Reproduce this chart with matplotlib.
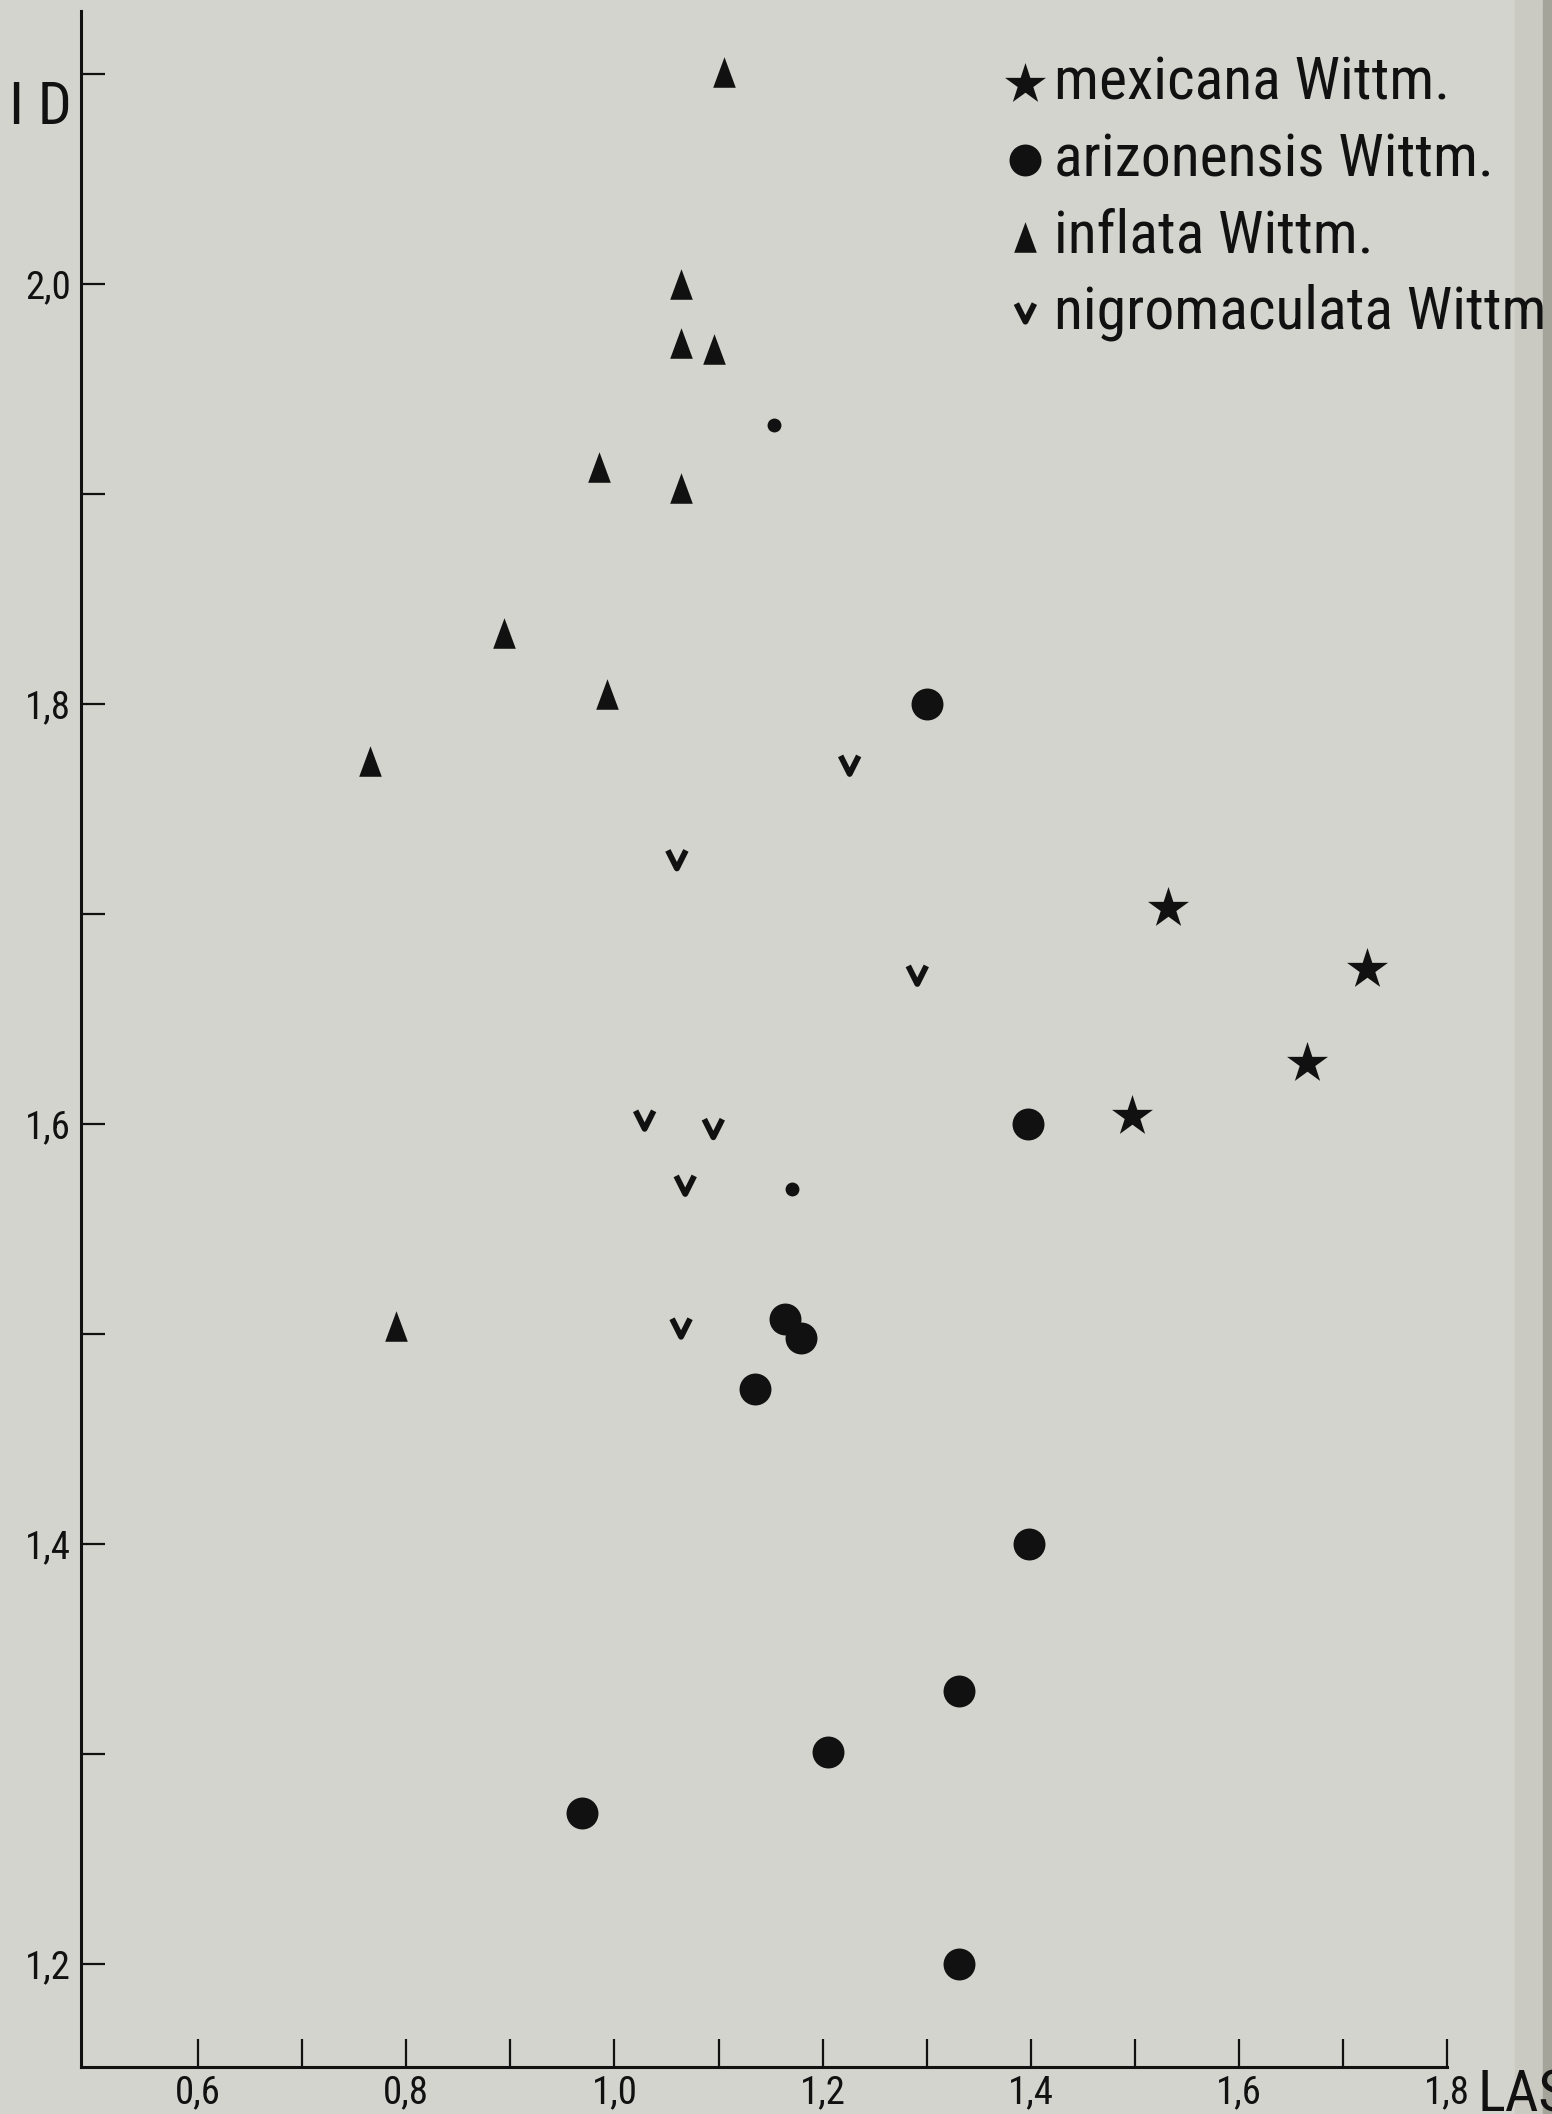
import matplotlib
matplotlib.use("Agg")
import matplotlib.pyplot as plt
from matplotlib import font_manager
from matplotlib.path import Path
from matplotlib.patches import Rectangle

# --- data (LAS on x, ID on y) ---
mexicana_x = [1.532, 1.723, 1.665, 1.497]
mexicana_y = [1.703, 1.674, 1.629, 1.604]

arizonensis_x = [1.300, 1.397, 1.164, 1.179, 1.135, 1.398, 1.331, 1.205, 0.969, 1.331]
arizonensis_y = [1.800, 1.600, 1.507, 1.498, 1.474, 1.400, 1.330, 1.301, 1.272, 1.200]

inflata_x = [1.105, 1.064, 1.064, 1.096, 0.985, 1.064, 0.894, 0.993, 0.765, 0.790]
inflata_y = [2.101, 2.000, 1.972, 1.969, 1.913, 1.903, 1.834, 1.805, 1.773, 1.504]

nigro_x = [1.226, 1.060, 1.291, 1.029, 1.095, 1.068, 1.064]
nigro_y = [1.771, 1.726, 1.671, 1.602, 1.598, 1.571, 1.503]

# two small unlabelled blobs
stray_x = [1.153, 1.171]
stray_y = [1.933, 1.569]

xticks = [0.6, 0.7, 0.8, 0.9, 1.0, 1.1, 1.2, 1.3, 1.4, 1.5, 1.6, 1.7, 1.8]
xlabels = ["0,6", "", "0,8", "", "1,0", "", "1,2", "", "1,4", "", "1,6", "", "1,8"]
yticks = [1.2, 1.3, 1.4, 1.5, 1.6, 1.7, 1.8, 1.9, 2.0, 2.1]
ylabels = ["1,2", "", "1,4", "", "1,6", "", "1,8", "", "2,0", ""]

names = ["mexicana Wittm.", "arizonensis Wittm.", "inflata Wittm.", "nigromaculata Wittm"]

# pick a narrow face if there is one
have = {f.name for f in font_manager.fontManager.ttflist}
narrow = "DejaVu Sans"
for cand in ["Liberation Sans Narrow", "Roboto Condensed", "DejaVu Sans Condensed", "Liberation Sans"]:
    if cand in have:
        narrow = cand
        break
fam = [narrow, "DejaVu Sans"]
ink = "#111111"

bg = "#d4d4ce"
fig = plt.figure(figsize=(15.52, 21.14), dpi=100, facecolor=bg)
# page edge on the right
fig.patches.append(Rectangle((1515 / 1552, 0), 28 / 1552, 1, transform=fig.transFigure,
                             color="#cacac2", zorder=-2))
fig.patches.append(Rectangle((1543 / 1552, 0), 9 / 1552, 1, transform=fig.transFigure,
                             color="#a4a49b", zorder=-2))

ax = fig.add_axes([81 / 1552, 1 - 2067 / 2114, 1366 / 1552, 2056 / 2114])
ax.set_facecolor("none")
ax.set_xlim(0.4874, 1.80)
ax.set_ylim(1.151, 2.130)

for s in ["top", "right"]:
    ax.spines[s].set_visible(False)
for s in ["left", "bottom"]:
    ax.spines[s].set_linewidth(2.2)
    ax.spines[s].set_color(ink)

ax.set_xticks(xticks)
ax.set_xticklabels(xlabels)
ax.set_yticks(yticks)
ax.set_yticklabels(ylabels)
ax.tick_params(axis="x", direction="in", length=20, width=1.6, pad=5, labelsize=28, colors=ink)
ax.tick_params(axis="y", direction="in", length=17, width=1.6, pad=7, labelsize=28, colors=ink)
for t in ax.get_xticklabels() + ax.get_yticklabels():
    t.set_family(fam)

tri = [(-0.37, -0.5), (0.37, -0.5), (0.0, 0.5)]
vee = Path([(-0.5, 0.5), (0.0, -0.5), (0.5, 0.5)], [Path.MOVETO, Path.LINETO, Path.LINETO])

h1 = ax.scatter(mexicana_x, mexicana_y, marker="*", s=31 ** 2, c=ink, linewidths=0, clip_on=False)
h2 = ax.scatter(arizonensis_x, arizonensis_y, marker="o", s=23 ** 2, c=ink, linewidths=0, clip_on=False)
h3 = ax.scatter(inflata_x, inflata_y, marker=tri, s=22 ** 2, c=ink, linewidths=0, clip_on=False)
h4 = ax.scatter(nigro_x, nigro_y, marker=vee, s=13 ** 2, facecolors="none", edgecolors=ink,
                linewidths=4.2, clip_on=False)
ax.scatter(stray_x, stray_y, marker="o", s=10 ** 2, c=ink, linewidths=0)

leg = ax.legend([h1, h2, h3, h4], names, loc="upper left",
                bbox_to_anchor=(1003 / 1552, 1 - 55 / 2114), bbox_transform=fig.transFigure,
                frameon=False, borderpad=0, borderaxespad=0, handlelength=0.75,
                handletextpad=0.1, labelspacing=0.32, scatterpoints=1,
                prop={"family": fam, "size": 43})
for t in leg.get_texts():
    t.set_color(ink)

fig.text(40 / 1552, 1 - 108 / 2114, "I D", fontsize=43, family=fam,
         ha="center", va="center", color=ink)
fig.text(1478 / 1552, 1 - 2096 / 2114, "LAS", fontsize=42, family=fam,
         ha="left", va="center", color=ink)

fig.savefig("out.png", dpi=100, facecolor=bg)
